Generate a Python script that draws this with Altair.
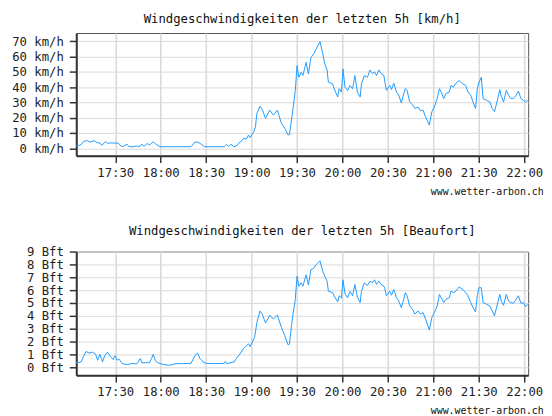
import altair as alt
import pandas as pd

# ---- data ----
kmh_times = [
    "17:04:00", "17:06:00", "17:07:30", "17:09:00", "17:11:30", "17:13:30", "17:16:00", "17:18:00",
    "17:20:00", "17:21:00", "17:23:30", "17:25:00", "17:27:00", "17:32:00", "17:33:00", "17:35:00",
    "17:37:40", "17:39:00", "17:42:00", "17:44:00", "17:46:00", "17:47:30", "17:49:00", "17:51:00",
    "17:52:30", "17:55:00", "17:57:00", "17:59:30", "18:05:00", "18:10:00", "18:15:00", "18:20:00",
    "18:22:30", "18:24:30", "18:26:40", "18:29:00", "18:35:00", "18:42:00", "18:43:30", "18:45:00",
    "18:46:30", "18:48:00", "18:50:00", "18:51:30", "18:53:00", "18:54:50", "18:56:30", "18:58:00",
    "18:59:00", "19:01:30", "19:02:30", "19:03:30", "19:05:30", "19:07:00", "19:09:10", "19:12:00",
    "19:14:20", "19:17:00", "19:19:40", "19:21:50", "19:24:00", "19:25:00", "19:26:20", "19:27:20",
    "19:28:50", "19:30:00", "19:31:10", "19:32:40", "19:33:50", "19:36:00", "19:37:30", "19:39:10",
    "19:41:00", "19:42:30", "19:43:40", "19:45:10", "19:47:00", "19:48:20", "19:49:50", "19:50:40",
    "19:53:30", "19:54:30", "19:56:50", "19:57:50", "19:59:20", "20:00:20", "20:01:40", "20:03:20",
    "20:05:00", "20:06:40", "20:08:10", "20:09:50", "20:11:40", "20:12:30", "20:14:20", "20:16:30",
    "20:18:10", "20:19:40", "20:21:10", "20:22:30", "20:24:00", "20:25:30", "20:27:20", "20:28:00",
    "20:29:00", "20:31:10", "20:32:20", "20:33:50", "20:35:40", "20:37:10", "20:38:50", "20:39:50",
    "20:41:30", "20:42:40", "20:44:20", "20:46:30", "20:47:50", "20:49:50", "20:51:30", "20:53:10",
    "20:54:50", "20:56:20", "20:57:20", "20:59:00", "21:00:40", "21:02:30", "21:04:00", "21:05:10",
    "21:06:50", "21:08:20", "21:10:30", "21:11:40", "21:13:10", "21:14:50", "21:17:00", "21:19:20",
    "21:21:20", "21:22:50", "21:24:40", "21:26:10", "21:27:50", "21:29:00", "21:30:10", "21:31:40",
    "21:32:50", "21:35:10", "21:37:20", "21:38:50", "21:40:20", "21:42:00", "21:43:50", "21:44:50",
    "21:46:20", "21:48:10", "21:49:40", "21:51:10", "21:52:50", "21:54:40", "21:56:10", "21:57:50",
    "21:59:30", "22:00:50", "22:02:20",
]
kmh_values = [
    1.5, 1.8, 2.5, 4.4, 5.0, 4.0, 5.0, 3.7,
    3.3, 1.9, 4.2, 3.2, 3.5, 3.3, 1.9, 1.0,
    2.7, 1.0, 1.0, 1.5, 1.0, 2.7, 1.2, 3.2,
    2.0, 4.2, 2.5, 1.0, 1.0, 1.0, 1.0, 1.0,
    4.0, 4.0, 2.7, 1.0, 1.0, 1.0, 2.5, 1.2,
    2.7, 1.0, 1.5, 3.4, 4.4, 6.6, 6.0, 8.7,
    7.0, 10.9, 14.0, 22.8, 27.5, 25.4, 19.6, 25.0,
    21.7, 25.0, 16.3, 13.1, 8.7, 8.9, 18.5, 26.0,
    37.9, 54.1, 46.5, 49.8, 47.6, 56.3, 48.7, 59.5,
    61.7, 64.9, 67.0, 69.9, 61.7, 55.2, 51.3, 43.3,
    42.2, 39.0, 33.6, 39.0, 36.8, 52.0, 40.0, 37.9,
    41.0, 39.0, 47.6, 36.8, 33.6, 42.0, 47.6, 46.5,
    51.3, 49.0, 50.0, 47.6, 51.3, 49.0, 47.6, 43.3,
    37.9, 41.2, 38.5, 42.6, 36.8, 34.7, 29.7, 33.6,
    39.0, 38.0, 30.3, 28.2, 26.0, 27.0, 24.5, 25.0,
    20.6, 17.4, 15.2, 23.9, 27.1, 32.5, 39.0, 36.8,
    32.5, 35.8, 36.8, 41.2, 40.0, 42.6, 44.4, 42.2,
    41.2, 36.8, 34.7, 30.3, 26.0, 39.0, 43.3, 46.5,
    32.5, 31.4, 30.3, 26.0, 23.9, 30.3, 38.4, 34.0,
    30.3, 37.9, 34.7, 32.5, 32.5, 34.7, 37.5, 32.5,
    31.4, 30.3, 31.4,
]

bft_times = [
    "17:04:00", "17:07:20", "17:08:30", "17:10:40", "17:12:40", "17:15:00", "17:17:00", "17:18:20",
    "17:19:50", "17:21:30", "17:23:00", "17:24:50", "17:27:00", "17:28:30", "17:29:50", "17:31:10",
    "17:32:20", "17:34:30", "17:38:00", "17:41:00", "17:44:00", "17:46:30", "17:47:30", "17:50:00",
    "17:52:30", "17:54:00", "17:55:00", "17:56:30", "17:58:10", "18:02:00", "18:06:00", "18:10:00",
    "18:15:00", "18:20:00", "18:22:40", "18:24:20", "18:25:50", "18:28:00", "18:30:00", "18:36:00",
    "18:42:00", "18:42:40", "18:43:30", "18:48:30", "18:50:00", "18:52:30", "18:54:30", "18:56:00",
    "18:58:00", "18:59:00", "19:02:00", "19:03:30", "19:05:30", "19:07:00", "19:09:10", "19:12:00",
    "19:14:20", "19:17:00", "19:19:40", "19:21:50", "19:24:00", "19:25:00", "19:26:20", "19:27:20",
    "19:28:50", "19:30:00", "19:31:10", "19:32:40", "19:33:50", "19:36:00", "19:37:30", "19:39:10",
    "19:41:00", "19:42:30", "19:43:40", "19:45:10", "19:47:00", "19:48:20", "19:49:50", "19:50:40",
    "19:53:30", "19:54:30", "19:56:50", "19:57:50", "19:59:20", "20:00:20", "20:01:40", "20:03:20",
    "20:05:00", "20:06:40", "20:08:10", "20:09:50", "20:11:40", "20:12:30", "20:14:20", "20:16:30",
    "20:18:10", "20:19:40", "20:21:10", "20:22:30", "20:24:00", "20:25:30", "20:27:20", "20:28:00",
    "20:29:00", "20:31:10", "20:32:20", "20:33:50", "20:35:40", "20:37:10", "20:38:50", "20:39:50",
    "20:41:30", "20:42:40", "20:44:20", "20:46:30", "20:47:50", "20:49:50", "20:51:30", "20:53:10",
    "20:54:50", "20:56:20", "20:57:20", "20:59:00", "21:00:40", "21:02:30", "21:04:00", "21:05:10",
    "21:06:50", "21:08:20", "21:10:30", "21:11:40", "21:13:10", "21:14:50", "21:17:00", "21:19:20",
    "21:21:20", "21:22:50", "21:24:40", "21:26:10", "21:27:50", "21:29:00", "21:30:10", "21:31:40",
    "21:32:50", "21:35:10", "21:37:20", "21:38:50", "21:40:20", "21:42:00", "21:43:50", "21:44:50",
    "21:46:20", "21:48:10", "21:49:40", "21:51:10", "21:52:50", "21:54:40", "21:56:10", "21:57:50",
    "21:59:30", "22:00:50", "22:02:20",
]
bft_values = [
    0.34, 0.41, 0.7, 1.23, 1.1, 1.17, 1.0, 0.54,
    1.0, 0.41, 0.9, 1.17, 0.8, 0.6, 0.9, 0.54,
    0.65, 0.28, 0.2, 0.3, 0.25, 0.67, 0.35, 0.35,
    0.35, 0.7, 1.0, 0.5, 0.34, 0.2, 0.15, 0.28,
    0.28, 0.3, 0.93, 1.1, 0.7, 0.41, 0.3, 0.28,
    0.3, 0.45, 0.28, 0.41, 0.7, 1.05, 1.44, 1.6,
    1.82, 1.6, 2.34, 3.49, 4.38, 4.13, 3.44, 4.05,
    3.75, 4.05, 3.1, 2.46, 1.75, 1.8, 3.23, 4.13,
    5.28, 7.08, 6.3, 6.57, 6.3, 7.2, 6.4, 7.6,
    7.7, 7.97, 8.1, 8.28, 7.46, 7.08, 6.7, 5.92,
    5.8, 5.56, 5.08, 5.56, 5.4, 6.8, 5.72, 5.4,
    5.9, 5.56, 6.44, 5.46, 5.03, 5.9, 6.57, 6.36,
    6.7, 6.57, 6.8, 6.44, 6.7, 6.44, 6.3, 6.1,
    5.56, 5.92, 5.6, 6.05, 5.41, 5.15, 4.64, 5.03,
    5.8, 5.56, 4.77, 4.46, 4.13, 4.38, 4.13, 4.26,
    3.75, 3.23, 2.9, 3.87, 4.26, 4.77, 5.67, 5.41,
    5.03, 5.28, 5.41, 5.92, 5.8, 5.92, 6.25, 6.05,
    5.8, 5.56, 5.03, 4.64, 4.31, 5.56, 6.2, 6.18,
    5.03, 4.9, 4.77, 4.38, 4.0, 4.77, 5.67, 5.15,
    4.82, 5.67, 5.15, 5.03, 4.98, 5.28, 5.56, 4.98,
    5.03, 4.72, 4.9,
]

tick_minutes = [1050, 1080, 1110, 1140, 1170, 1200, 1230, 1260, 1290, 1320]
kmh_ticks = [0, 10, 20, 30, 40, 50, 60, 70]
bft_ticks = [0, 1, 2, 3, 4, 5, 6, 7, 8, 9]

title_kmh = "Windgeschwindigkeiten der letzten 5h [km/h]"
title_bft = "Windgeschwindigkeiten der letzten 5h [Beaufort]"
footer = "www.wetter-arbon.ch"


def to_minutes(s):
    h, m, sec = s.split(":")
    return int(h) * 60 + int(m) + int(sec) / 60.0


df_kmh = pd.DataFrame({"t": [to_minutes(s) for s in kmh_times], "v": kmh_values})
df_bft = pd.DataFrame({"t": [to_minutes(s) for s in bft_times], "v": bft_values})

FONT = "DejaVu Sans Mono"
LINE = "#1f9bff"
X_DOMAIN = [1024.2, 1322.6]
W = 457

time_expr = "floor(datum.value / 60) + ':' + (datum.value % 60 == 0 ? '00' : '30')"


def x_enc():
    return alt.X(
        "t:Q",
        scale=alt.Scale(domain=X_DOMAIN, nice=False, zero=False),
        axis=alt.Axis(
            values=tick_minutes,
            labelExpr=time_expr,
            title=footer,
            titleFont=FONT,
            titleFontSize=10,
            titleFontWeight="normal",
            titleColor="#111",
            titleAlign="left",
            titleAnchor="start",
            titleBaseline="middle",
            titleX=358,
            titleY=36,
            labelFlush=False,
            labelPadding=4,
            tickSize=7,
            gridWidth=1.6,
        ),
    )


top = (
    alt.Chart(df_kmh)
    .mark_line(color=LINE, strokeWidth=1)
    .encode(
        x=x_enc(),
        y=alt.Y(
            "v:Q",
            scale=alt.Scale(domain=[-4.86, 75.5], nice=False, zero=False),
            axis=alt.Axis(
                values=kmh_ticks,
                labelExpr="datum.value + ' km/h'",
                title=None,
                tickSize=7,
                labelPadding=6,
                gridWidth=1,
            ),
        ),
    )
    .properties(
        width=W,
        height=124,
        title=alt.TitleParams(title_kmh, font=FONT, fontSize=12.4, fontWeight="normal",
                              color="#111", anchor="middle", offset=8),
    )
)

bottom = (
    alt.Chart(df_bft)
    .mark_line(color=LINE, strokeWidth=1)
    .encode(
        x=x_enc(),
        y=alt.Y(
            "v:Q",
            scale=alt.Scale(domain=[-0.62, 9], nice=False, zero=False),
            axis=alt.Axis(
                values=bft_ticks,
                labelExpr="datum.value + ' Bft'",
                title=None,
                tickSize=7,
                labelPadding=6,
                gridWidth=1,
            ),
        ),
    )
    .properties(
        width=W,
        height=125,
        title=alt.TitleParams(title_bft, font=FONT, fontSize=12.4, fontWeight="normal",
                              color="#111", anchor="middle", offset=8),
    )
)

chart = (
    alt.vconcat(top, bottom, spacing=28)
    .properties(padding={"left": 3, "top": 2, "right": 0, "bottom": 0})
    .configure_view(stroke="#555", strokeWidth=1)
    .configure_axis(
        labelFont=FONT,
        labelFontSize=12.4,
        labelColor="#222",
        labelOverlap=False,
        domainColor="#333",
        domainWidth=2,
        tickColor="#333",
        tickWidth=1.5,
        gridColor="#dadada",
    )
)

chart.save("out.html", embed_options={"renderer": "svg", "actions": False})
